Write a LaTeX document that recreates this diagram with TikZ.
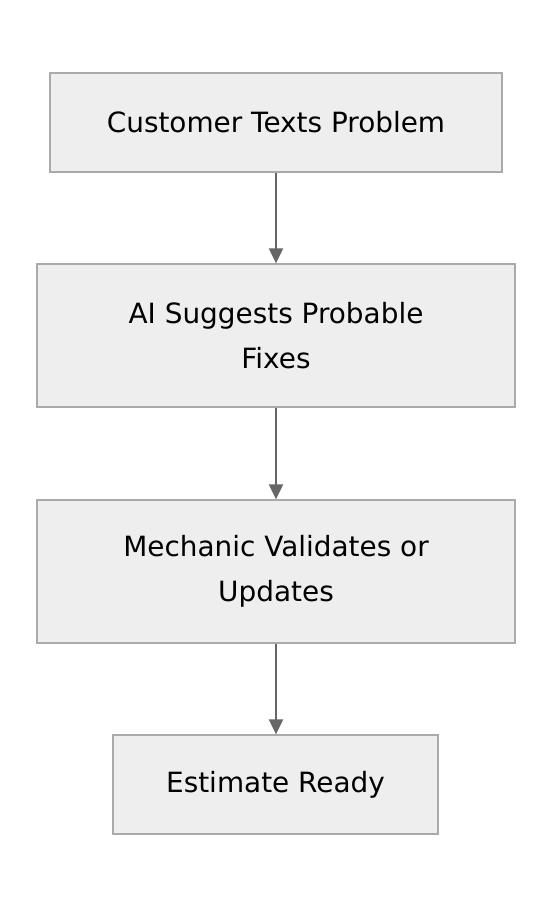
\documentclass[tikz,border=0pt]{standalone}
\usepackage{fontspec}
\setmainfont{DejaVu Sans}
\usetikzlibrary{arrows.meta}
\definecolor{boxfill}{HTML}{EEEEEE}
\definecolor{boxline}{HTML}{AAAAAA}
\definecolor{arrowc}{HTML}{666666}
\tikzset{
  stepbox/.style={draw=boxline, fill=boxfill, line width=1.3pt, inner sep=0pt,
    align=center, font=\fontsize{27.9}{45}\selectfont, text=black},
  flowarrow/.style={draw=arrowc, line width=2pt, -{Triangle[length=15pt,width=14pt]}}
}
\begin{document}
\begin{tikzpicture}[x=1pt,y=-1pt]
\useasboundingbox (0,0) rectangle (552,908);
\node[stepbox, minimum width=452pt, minimum height=99pt] (a) at (276,122.5) {Customer Texts Problem};
\node[stepbox, minimum width=478pt, minimum height=143pt] (b) at (276,335.5) {AI Suggests Probable\\Fixes};
\node[stepbox, minimum width=478pt, minimum height=143pt] (c) at (276,571.5) {Mechanic Validates or\\Updates};
\node[stepbox, minimum width=325pt, minimum height=99pt] (d) at (275.5,784.5) {Estimate Ready};
\draw[flowarrow] (a.south) -- (b.north);
\draw[flowarrow] (b.south) -- (c.north);
\draw[flowarrow] (c.south) -- (c.south |- d.north);
\end{tikzpicture}
\end{document}
